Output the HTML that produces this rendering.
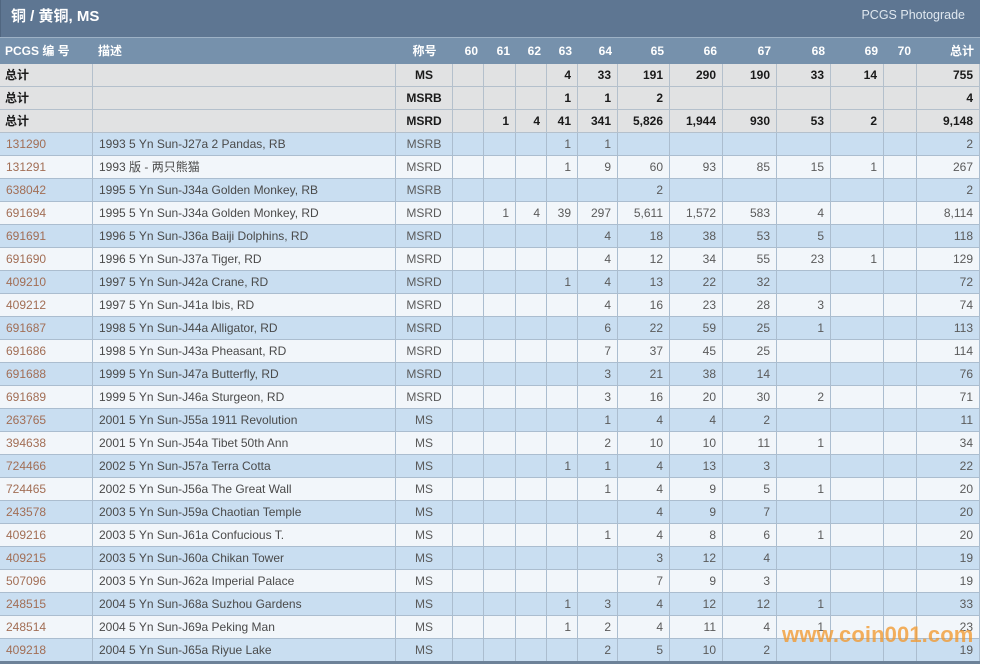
<!DOCTYPE html>
<html><head><meta charset="utf-8">
<style>
*{margin:0;padding:0;box-sizing:border-box}
html,body{width:982px;height:664px;background:#fff;overflow:hidden}
body{font-family:"Liberation Sans","Noto Sans CJK SC",sans-serif;font-size:12px;position:relative}
.title{position:absolute;left:0;top:0;width:980px;height:37px;background:#5e7692;border-left:1px solid #506680}
.title .t{position:absolute;left:10px;top:8px;color:#fff;font-weight:bold;font-size:15px;line-height:18px}
.title .p{position:absolute;right:15px;top:7px;color:#dfe7ef;font-size:12.5px;line-height:16px}
.sep{position:absolute;left:0;top:37px;width:980px;height:1px;background:#9db1c5}
.tbl{position:absolute;left:0;top:38px;width:980px}
.row{display:flex;height:23px}
.row>div{height:23px;line-height:22px;border-right:1px solid #abbdcf;border-bottom:1px solid #abbdcf;text-align:right;padding-right:6px;white-space:nowrap;overflow:hidden;color:#5a5a5a}
.row>div:nth-child(1){width:93px;text-align:left;padding-left:6px;color:#a26e55}
.row>div:nth-child(2){width:303px;text-align:left;padding-left:6px;color:#4a4a4a}
.row>div:nth-child(3){width:57px;text-align:center;padding-right:0}
.row>div:nth-child(4){width:31px}
.row>div:nth-child(5){width:32px}
.row>div:nth-child(6){width:31px}
.row>div:nth-child(7){width:31px}
.row>div:nth-child(8){width:40px}
.row>div:nth-child(9){width:52px}
.row>div:nth-child(10){width:53px}
.row>div:nth-child(11){width:54px}
.row>div:nth-child(12){width:54px}
.row>div:nth-child(13){width:53px}
.row>div:nth-child(14){width:33px}
.row>div:nth-child(15){width:63px}
.row.h{height:26px;background:#7691ac}
.row.h>div{height:26px;line-height:26px;border:none;color:#fff;font-weight:bold}
.row.h>div:nth-child(1),.row.h>div:nth-child(2){padding-left:5px;color:#fff}
.row.tot{background:#e1e2e3}
.row.tot>div{color:#1a1a1a;font-weight:bold;border-color:#b4c0cc}
.row.tot>div:nth-child(1){padding-left:5px}
.row.a{background:#c9def1}
.row.b{background:#f2f6fa}
.bottom{position:absolute;left:0;top:661px;width:980px;height:3px;background:#6d8298}
.wm{position:absolute;left:782px;top:622px;font-size:22px;font-weight:bold;color:#f29a30;opacity:.78;line-height:26px;letter-spacing:0.1px}
</style></head><body>
<div class="title"><div class="t">铜 / 黄铜, MS</div><div class="p">PCGS Photograde</div></div>
<div class="sep"></div>
<div class="tbl">
<div class="row h"><div>PCGS 编 号</div><div>描述</div><div>称号</div><div>60</div><div>61</div><div>62</div><div>63</div><div>64</div><div>65</div><div>66</div><div>67</div><div>68</div><div>69</div><div>70</div><div>总计</div></div>
<div class="row tot"><div>总计</div><div></div><div>MS</div><div></div><div></div><div></div><div>4</div><div>33</div><div>191</div><div>290</div><div>190</div><div>33</div><div>14</div><div></div><div>755</div></div>
<div class="row tot"><div>总计</div><div></div><div>MSRB</div><div></div><div></div><div></div><div>1</div><div>1</div><div>2</div><div></div><div></div><div></div><div></div><div></div><div>4</div></div>
<div class="row tot"><div>总计</div><div></div><div>MSRD</div><div></div><div>1</div><div>4</div><div>41</div><div>341</div><div>5,826</div><div>1,944</div><div>930</div><div>53</div><div>2</div><div></div><div>9,148</div></div>
<div class="row a"><div>131290</div><div>1993 5 Yn Sun-J27a 2 Pandas, RB</div><div>MSRB</div><div></div><div></div><div></div><div>1</div><div>1</div><div></div><div></div><div></div><div></div><div></div><div></div><div>2</div></div>
<div class="row b"><div>131291</div><div>1993 版 - 两只熊猫</div><div>MSRD</div><div></div><div></div><div></div><div>1</div><div>9</div><div>60</div><div>93</div><div>85</div><div>15</div><div>1</div><div></div><div>267</div></div>
<div class="row a"><div>638042</div><div>1995 5 Yn Sun-J34a Golden Monkey, RB</div><div>MSRB</div><div></div><div></div><div></div><div></div><div></div><div>2</div><div></div><div></div><div></div><div></div><div></div><div>2</div></div>
<div class="row b"><div>691694</div><div>1995 5 Yn Sun-J34a Golden Monkey, RD</div><div>MSRD</div><div></div><div>1</div><div>4</div><div>39</div><div>297</div><div>5,611</div><div>1,572</div><div>583</div><div>4</div><div></div><div></div><div>8,114</div></div>
<div class="row a"><div>691691</div><div>1996 5 Yn Sun-J36a Baiji Dolphins, RD</div><div>MSRD</div><div></div><div></div><div></div><div></div><div>4</div><div>18</div><div>38</div><div>53</div><div>5</div><div></div><div></div><div>118</div></div>
<div class="row b"><div>691690</div><div>1996 5 Yn Sun-J37a Tiger, RD</div><div>MSRD</div><div></div><div></div><div></div><div></div><div>4</div><div>12</div><div>34</div><div>55</div><div>23</div><div>1</div><div></div><div>129</div></div>
<div class="row a"><div>409210</div><div>1997 5 Yn Sun-J42a Crane, RD</div><div>MSRD</div><div></div><div></div><div></div><div>1</div><div>4</div><div>13</div><div>22</div><div>32</div><div></div><div></div><div></div><div>72</div></div>
<div class="row b"><div>409212</div><div>1997 5 Yn Sun-J41a Ibis, RD</div><div>MSRD</div><div></div><div></div><div></div><div></div><div>4</div><div>16</div><div>23</div><div>28</div><div>3</div><div></div><div></div><div>74</div></div>
<div class="row a"><div>691687</div><div>1998 5 Yn Sun-J44a Alligator, RD</div><div>MSRD</div><div></div><div></div><div></div><div></div><div>6</div><div>22</div><div>59</div><div>25</div><div>1</div><div></div><div></div><div>113</div></div>
<div class="row b"><div>691686</div><div>1998 5 Yn Sun-J43a Pheasant, RD</div><div>MSRD</div><div></div><div></div><div></div><div></div><div>7</div><div>37</div><div>45</div><div>25</div><div></div><div></div><div></div><div>114</div></div>
<div class="row a"><div>691688</div><div>1999 5 Yn Sun-J47a Butterfly, RD</div><div>MSRD</div><div></div><div></div><div></div><div></div><div>3</div><div>21</div><div>38</div><div>14</div><div></div><div></div><div></div><div>76</div></div>
<div class="row b"><div>691689</div><div>1999 5 Yn Sun-J46a Sturgeon, RD</div><div>MSRD</div><div></div><div></div><div></div><div></div><div>3</div><div>16</div><div>20</div><div>30</div><div>2</div><div></div><div></div><div>71</div></div>
<div class="row a"><div>263765</div><div>2001 5 Yn Sun-J55a 1911 Revolution</div><div>MS</div><div></div><div></div><div></div><div></div><div>1</div><div>4</div><div>4</div><div>2</div><div></div><div></div><div></div><div>11</div></div>
<div class="row b"><div>394638</div><div>2001 5 Yn Sun-J54a Tibet 50th Ann</div><div>MS</div><div></div><div></div><div></div><div></div><div>2</div><div>10</div><div>10</div><div>11</div><div>1</div><div></div><div></div><div>34</div></div>
<div class="row a"><div>724466</div><div>2002 5 Yn Sun-J57a Terra Cotta</div><div>MS</div><div></div><div></div><div></div><div>1</div><div>1</div><div>4</div><div>13</div><div>3</div><div></div><div></div><div></div><div>22</div></div>
<div class="row b"><div>724465</div><div>2002 5 Yn Sun-J56a The Great Wall</div><div>MS</div><div></div><div></div><div></div><div></div><div>1</div><div>4</div><div>9</div><div>5</div><div>1</div><div></div><div></div><div>20</div></div>
<div class="row a"><div>243578</div><div>2003 5 Yn Sun-J59a Chaotian Temple</div><div>MS</div><div></div><div></div><div></div><div></div><div></div><div>4</div><div>9</div><div>7</div><div></div><div></div><div></div><div>20</div></div>
<div class="row b"><div>409216</div><div>2003 5 Yn Sun-J61a Confucious T.</div><div>MS</div><div></div><div></div><div></div><div></div><div>1</div><div>4</div><div>8</div><div>6</div><div>1</div><div></div><div></div><div>20</div></div>
<div class="row a"><div>409215</div><div>2003 5 Yn Sun-J60a Chikan Tower</div><div>MS</div><div></div><div></div><div></div><div></div><div></div><div>3</div><div>12</div><div>4</div><div></div><div></div><div></div><div>19</div></div>
<div class="row b"><div>507096</div><div>2003 5 Yn Sun-J62a Imperial Palace</div><div>MS</div><div></div><div></div><div></div><div></div><div></div><div>7</div><div>9</div><div>3</div><div></div><div></div><div></div><div>19</div></div>
<div class="row a"><div>248515</div><div>2004 5 Yn Sun-J68a Suzhou Gardens</div><div>MS</div><div></div><div></div><div></div><div>1</div><div>3</div><div>4</div><div>12</div><div>12</div><div>1</div><div></div><div></div><div>33</div></div>
<div class="row b"><div>248514</div><div>2004 5 Yn Sun-J69a Peking Man</div><div>MS</div><div></div><div></div><div></div><div>1</div><div>2</div><div>4</div><div>11</div><div>4</div><div>1</div><div></div><div></div><div>23</div></div>
<div class="row a"><div>409218</div><div>2004 5 Yn Sun-J65a Riyue Lake</div><div>MS</div><div></div><div></div><div></div><div></div><div>2</div><div>5</div><div>10</div><div>2</div><div></div><div></div><div></div><div>19</div></div>
</div>
<div class="bottom"></div>
<div class="wm">www.coin001.com</div>
</body></html>
